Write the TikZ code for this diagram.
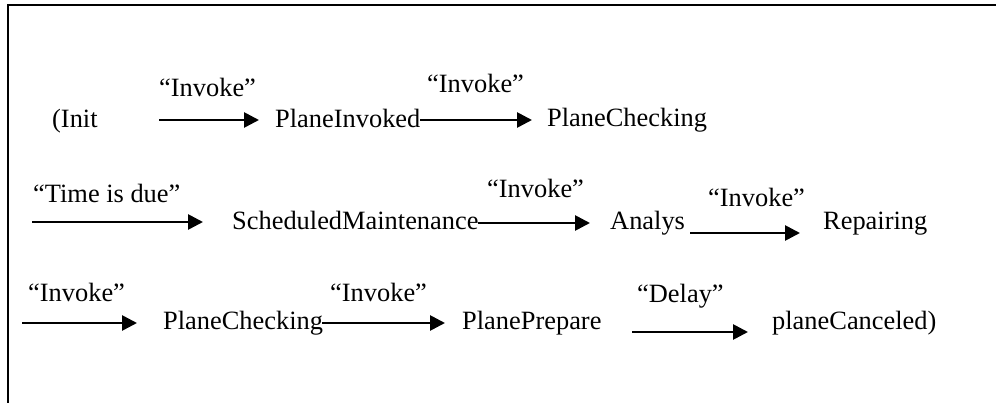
\documentclass[tikz,border=0pt]{standalone}
\usepackage{fontspec}
\setmainfont{Liberation Serif}
\usetikzlibrary{arrows.meta}
\tikzset{
  lbl/.style={anchor=base west, inner sep=0pt, font=\fontsize{26.4pt}{30pt}\selectfont},
  arr/.style={line width=2.7pt, -{Triangle[length=15pt,width=15pt]}},
  frame/.style={line width=2.2pt}
}
\begin{document}
\begin{tikzpicture}[x=1pt,y=-1pt]
\useasboundingbox (0,0) rectangle (996,403);
% frame (top and left sides)
\coordinate (ftr) at (996,5);
\coordinate (ftl) at (8,5);
\coordinate (fbl) at (8,403);
\draw[frame] (ftr) -- (ftl) -- (fbl);
% row 1
\node[lbl] (init) at (52,128) {(Init};
\node[lbl] (l1) at (159,97) {“Invoke”};
\node[lbl] (pinv) at (275,128) {PlaneInvoked};
\node[lbl] (l2) at (427,93) {“Invoke”};
\node[lbl] (pchkA) at (547,127) {PlaneChecking};
\coordinate (a1s) at (159,120); \coordinate (a1e) at (259,120);
\coordinate (a2s) at (420,120); \coordinate (a2e) at (532,120);
\draw[arr] (a1s) -- (a1e);
\draw[arr] (a2s) -- (a2e);
% row 2
\node[lbl] (l3) at (33,203) {“Time is due”};
\node[lbl] (sched) at (232,230) {ScheduledMaintenance};
\node[lbl] (l4) at (487,198) {“Invoke”};
\node[lbl] (anal) at (610,230) {Analys};
\node[lbl] (l5) at (708,207) {“Invoke”};
\node[lbl] (rep) at (823,230) {Repairing};
\coordinate (b1s) at (32,222); \coordinate (b1e) at (203,222);
\coordinate (b2s) at (478,223); \coordinate (b2e) at (590,223);
\coordinate (b3s) at (690,233); \coordinate (b3e) at (800,233);
\draw[arr] (b1s) -- (b1e);
\draw[arr] (b2s) -- (b2e);
\draw[arr] (b3s) -- (b3e);
% row 3
\node[lbl] (l6) at (28,302) {“Invoke”};
\node[lbl] (pchkB) at (163,330) {PlaneChecking};
\node[lbl] (l7) at (330,302) {“Invoke”};
\node[lbl] (pprep) at (462,330) {PlanePrepare};
\node[lbl] (l8) at (637,303) {“Delay”};
\node[lbl] (canc) at (772,330) {planeCanceled)};
\coordinate (c1s) at (22,323); \coordinate (c1e) at (137,323);
\coordinate (c2s) at (322,323); \coordinate (c2e) at (445,323);
\coordinate (c3s) at (632,332); \coordinate (c3e) at (748,332);
\draw[arr] (c1s) -- (c1e);
\draw[arr] (c2s) -- (c2e);
\draw[arr] (c3s) -- (c3e);
\end{tikzpicture}
\end{document}
